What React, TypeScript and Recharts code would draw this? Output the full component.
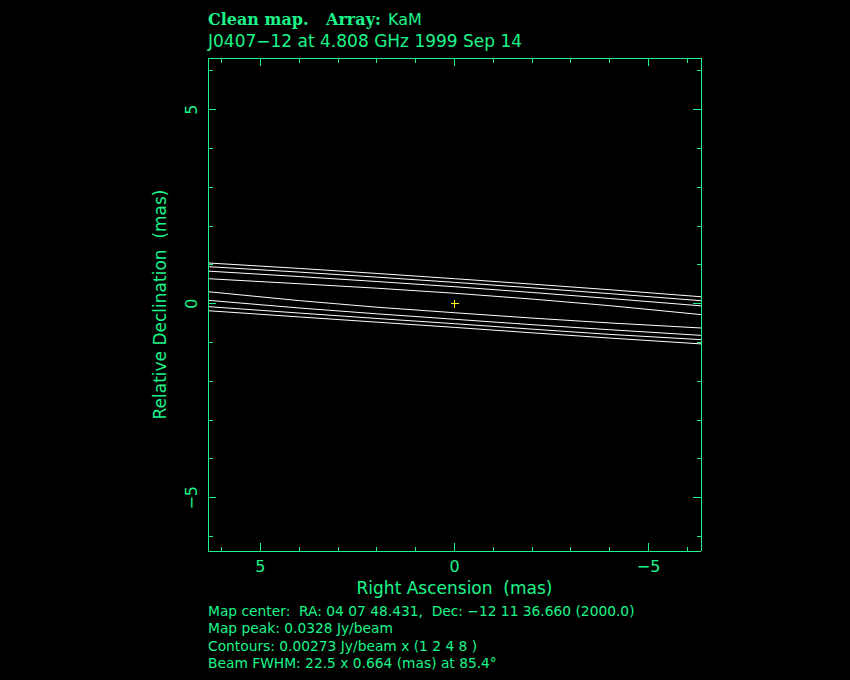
import React from "react";
import { ComposedChart, Line, Scatter, XAxis, YAxis } from "recharts";

const GREEN = "#1af58a";
const SANS = "'DejaVu Sans', sans-serif";
const SERIF = "'DejaVu Serif', serif";
const SP2 = "\u00a0\u00a0";

// tick positions (mas)
const raTicks = [6, 5, 4, 3, 2, 1, 0, -1, -2, -3, -4, -5, -6];
const decTicks = [-6, -5, -4, -3, -2, -1, 0, 1, 2, 3, 4, 5, 6];
const labelledTicks = [-5, 0, 5];

const raSamples = [6.35, 4, 2, 0, -2, -4, -6.35];

// relative declination of each contour at raSamples (mas)
const contour1Upper = [1.05, 0.91, 0.78, 0.645, 0.505, 0.36, 0.18];
const contour2Upper = [0.955, 0.815, 0.685, 0.55, 0.41, 0.26, 0.078];
const contour3Upper = [0.84, 0.70, 0.572, 0.438, 0.29, 0.135, -0.055];
const contour4Upper = [0.645, 0.515, 0.40, 0.27, 0.12, -0.05, -0.28];
const contour4Lower = [0.31, 0.08, -0.09, -0.232, -0.37, -0.495, -0.625];
const contour3Lower = [0.088, -0.11, -0.26, -0.40, -0.54, -0.67, -0.815];
const contour2Lower = [-0.075, -0.24, -0.38, -0.515, -0.655, -0.79, -0.925];
const contour1Lower = [-0.18, -0.34, -0.475, -0.61, -0.75, -0.885, -1.035];

const contours = [
  contour1Upper,
  contour2Upper,
  contour3Upper,
  contour4Upper,
  contour4Lower,
  contour3Lower,
  contour2Lower,
  contour1Lower,
];

const peak = [{ ra: 0, dec: 0 }];

const toPoints = (decs: number[]) =>
  raSamples.map((ra, i) => ({ ra, dec: decs[i] }));

const fmt = (v: number) => (v < 0 ? "\u2212" + Math.abs(v) : String(v));

const W = 850;
const H = 680;
// plot frame: x 208..701, y 58..551 (axes take 1px each)
const M = { top: 57, right: 148, bottom: 128, left: 207 };
const plotCx = (208 + 701) / 2;
const plotCy = (58 + 551) / 2;

const tickLen = (v: number) => (v % 5 === 0 ? 8 : 4.5);

function BottomTick({ x, y, payload }: any) {
  const v = payload.value;
  return (
    <g>
      <line x1={x} x2={x} y1={y} y2={y - tickLen(v)} stroke={GREEN} shapeRendering="crispEdges" />
      {labelledTicks.includes(v) && (
        <text x={x} y={y + 21} textAnchor="middle" fill={GREEN} fontSize={16} fontFamily={SANS}>
          {fmt(v)}
        </text>
      )}
    </g>
  );
}

function TopTick({ x, y, payload }: any) {
  const v = payload.value;
  return <line x1={x} x2={x} y1={y} y2={y + tickLen(v)} stroke={GREEN} shapeRendering="crispEdges" />;
}

function LeftTick({ x, y, payload }: any) {
  const v = payload.value;
  const lx = x - 11;
  return (
    <g>
      <line x1={x} x2={x + tickLen(v)} y1={y} y2={y} stroke={GREEN} shapeRendering="crispEdges" />
      {labelledTicks.includes(v) && (
        <text
          x={lx}
          y={y}
          textAnchor="middle"
          fill={GREEN}
          fontSize={16}
          fontFamily={SANS}
          transform={`rotate(-90 ${lx} ${y})`}
        >
          {fmt(v)}
        </text>
      )}
    </g>
  );
}

function RightTick({ x, y, payload }: any) {
  const v = payload.value;
  return <line x1={x} x2={x - tickLen(v)} y1={y} y2={y} stroke={GREEN} shapeRendering="crispEdges" />;
}

function Cross({ cx, cy }: any) {
  return (
    <g stroke="#ffff00" strokeWidth={1} shapeRendering="crispEdges">
      <line x1={cx - 4} x2={cx + 4} y1={cy} y2={cy} />
      <line x1={cx} x2={cx} y1={cy - 4} y2={cy + 4} />
    </g>
  );
}

const axisCommon = {
  type: "number" as const,
  allowDataOverflow: true,
  tickSize: 0,
  tickMargin: 0,
  tickLine: false,
  axisLine: { stroke: GREEN, shapeRendering: "crispEdges" },
  interval: 0 as const,
};

export default function App() {
  return (
    <div
      style={{
        position: "absolute",
        left: 0,
        top: 0,
        width: W,
        height: H,
        background: "#000",
      }}
    >
      <ComposedChart width={W} height={H} margin={M}>
        <XAxis
          {...axisCommon}
          xAxisId="bottom"
          dataKey="ra"
          domain={[-6.35, 6.35]}
          reversed
          ticks={raTicks}
          height={1}
          tick={<BottomTick />}
        />
        <XAxis
          {...axisCommon}
          xAxisId="top"
          orientation="top"
          dataKey="ra"
          domain={[-6.35, 6.35]}
          reversed
          ticks={raTicks}
          height={1}
          tick={<TopTick />}
        />
        <YAxis
          {...axisCommon}
          yAxisId="left"
          dataKey="dec"
          domain={[-6.37, 6.33]}
          ticks={decTicks}
          width={1}
          tick={<LeftTick />}
        />
        <YAxis
          {...axisCommon}
          yAxisId="right"
          orientation="right"
          dataKey="dec"
          domain={[-6.37, 6.33]}
          ticks={decTicks}
          width={1}
          tick={<RightTick />}
        />
        {contours.map((c, i) => (
          <Line
            key={i}
            xAxisId="bottom"
            yAxisId="left"
            data={toPoints(c)}
            dataKey="dec"
            type="linear"
            stroke="#ffffff"
            strokeWidth={1}
            dot={false}
            activeDot={false}
            isAnimationActive={false}
          />
        ))}
        <Scatter
          xAxisId="bottom"
          yAxisId="left"
          data={peak}
          dataKey="dec"
          shape={<Cross />}
          isAnimationActive={false}
        />
      </ComposedChart>
      <svg
        width={W}
        height={H}
        style={{ position: "absolute", left: 0, top: 0, pointerEvents: "none" }}
      >
        <text x={208} y={25} fill={GREEN} fontSize={16}>
          <tspan fontFamily={SERIF} fontWeight="bold">Clean map.</tspan>
          <tspan fontFamily={SERIF} fontWeight="bold" x={326}>Array:</tspan>
          <tspan fontFamily={SANS} x={388}>KaM</tspan>
        </text>
        <text x={208} y={46.7} fill={GREEN} fontSize={17} fontFamily={SANS}>
          J0407{"\u2212"}12 at 4.808 GHz 1999 Sep 14
        </text>
        <text x={plotCx} y={594} textAnchor="middle" fill={GREEN} fontSize={17} fontFamily={SANS}>
          {"Right Ascension" + SP2 + "(mas)"}
        </text>
        <text
          x={166}
          y={plotCy}
          textAnchor="middle"
          fill={GREEN}
          fontSize={17}
          fontFamily={SANS}
          transform={`rotate(-90 166 ${plotCy})`}
        >
          {"Relative Declination" + SP2 + "(mas)"}
        </text>
        <g fill={GREEN} fontSize={13.8} fontFamily={SANS}>
          <text x={208} y={615.7}>
            {"Map center:" + SP2 + "RA: 04 07 48.431," + SP2 + "Dec: \u221212 11 36.660 (2000.0)"}
          </text>
          <text x={208} y={633.3}>Map peak: 0.0328 Jy/beam</text>
          <text x={208} y={650.7}>Contours: 0.00273 Jy/beam x (1 2 4 8 )</text>
          <text x={208} y={668.3}>Beam FWHM: 22.5 x 0.664 (mas) at 85.4°</text>
        </g>
      </svg>
    </div>
  );
}
